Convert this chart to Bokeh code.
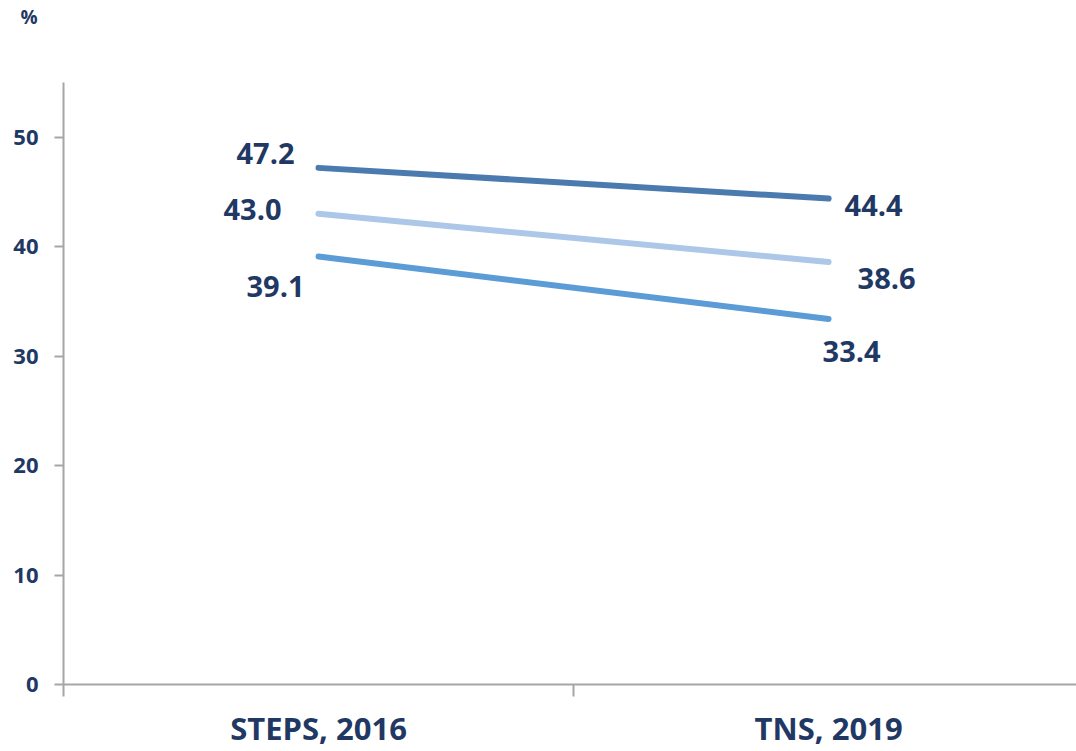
from bokeh.plotting import figure
from bokeh.models import Range1d, FixedTicker, ColumnDataSource
from bokeh.core.properties import value
from bokeh.embed import file_html
from bokeh.resources import INLINE

categories = ["STEPS, 2016", "TNS, 2019"]
series_a = [47.2, 44.4]
series_b = [43.0, 38.6]
series_c = [39.1, 33.4]
y_ticks = [0, 10, 20, 30, 40, 50]
unit_label = "%"

colors = ["#4a7aae", "#adc7e8", "#5b9bd6"]
# label offsets (pixels) per point, style only
label_dx = [[-24, 16], [-37, 29], [-14, -6]]
label_dy = [[-14, 7], [-4, 16], [30, 33]]

FONT = "Open Sans"
NAVY = "#1f3864"
GRAY = "#a6a6a6"

xs = [i + 0.5 for i in range(len(categories))]

p = figure(width=1076, height=751, output_backend="svg", toolbar_location=None,
           x_range=Range1d(0, 1.986), y_range=Range1d(0, 55),
           min_border_left=63, min_border_right=0, min_border_top=82, min_border_bottom=59)
p.outline_line_color = None
p.xgrid.visible = False
p.ygrid.visible = False
p.background_fill_color = "white"
p.border_fill_color = "white"

for vals, col, dx, dy in zip([series_a, series_b, series_c], colors, label_dx, label_dy):
    p.line(xs, vals, line_color=col, line_width=6, line_cap="round")
    src = ColumnDataSource(dict(x=xs, y=vals, t=[f"{v:.1f}" for v in vals],
                                dx=dx, dy=dy, al=["right", "left"]))
    p.text(x="x", y="y", text="t", source=src, x_offset="dx", y_offset="dy",
           text_align="al", text_baseline="middle", text_font=value(FONT),
           text_font_style="bold", text_font_size="29px", text_color=NAVY)

# y axis
p.yaxis.ticker = FixedTicker(ticks=y_ticks)
p.yaxis.axis_line_color = GRAY
p.yaxis.axis_line_width = 2
p.yaxis.major_tick_line_color = GRAY
p.yaxis.major_tick_line_width = 2
p.yaxis.major_tick_out = 9
p.yaxis.major_tick_in = 0
p.yaxis.minor_tick_line_color = None
p.yaxis.major_label_text_font = FONT
p.yaxis.major_label_text_font_style = "bold"
p.yaxis.major_label_text_font_size = "22px"
p.yaxis.major_label_text_color = NAVY
p.yaxis.major_label_standoff = 16

# x axis
p.xaxis.ticker = FixedTicker(ticks=xs, minor_ticks=[0, 1, 2])
p.xaxis.major_label_overrides = {x: c for x, c in zip(xs, categories)}
p.xaxis.axis_line_color = GRAY
p.xaxis.axis_line_width = 2
p.xaxis.major_tick_line_color = None
p.xaxis.major_tick_out = 0
p.xaxis.major_tick_in = 0
p.xaxis.minor_tick_line_color = GRAY
p.xaxis.minor_tick_line_width = 2
p.xaxis.minor_tick_out = 12
p.xaxis.minor_tick_in = 0
p.xaxis.major_label_text_font = FONT
p.xaxis.major_label_text_font_style = "bold"
p.xaxis.major_label_text_font_size = "31px"
p.xaxis.major_label_text_color = NAVY
p.xaxis.major_label_standoff = 10

# unit label at top-left, pushed up by two blank lines below it
p.title.text = unit_label + "\n\u00a0\n\u00a0"
p.title.align = "left"
p.title.offset = -43
p.title.standoff = 2
p.title.text_font = FONT
p.title.text_font_style = "bold"
p.title.text_font_size = "19px"
p.title.text_color = NAVY

open("out.html", "w").write(file_html(p, INLINE))
